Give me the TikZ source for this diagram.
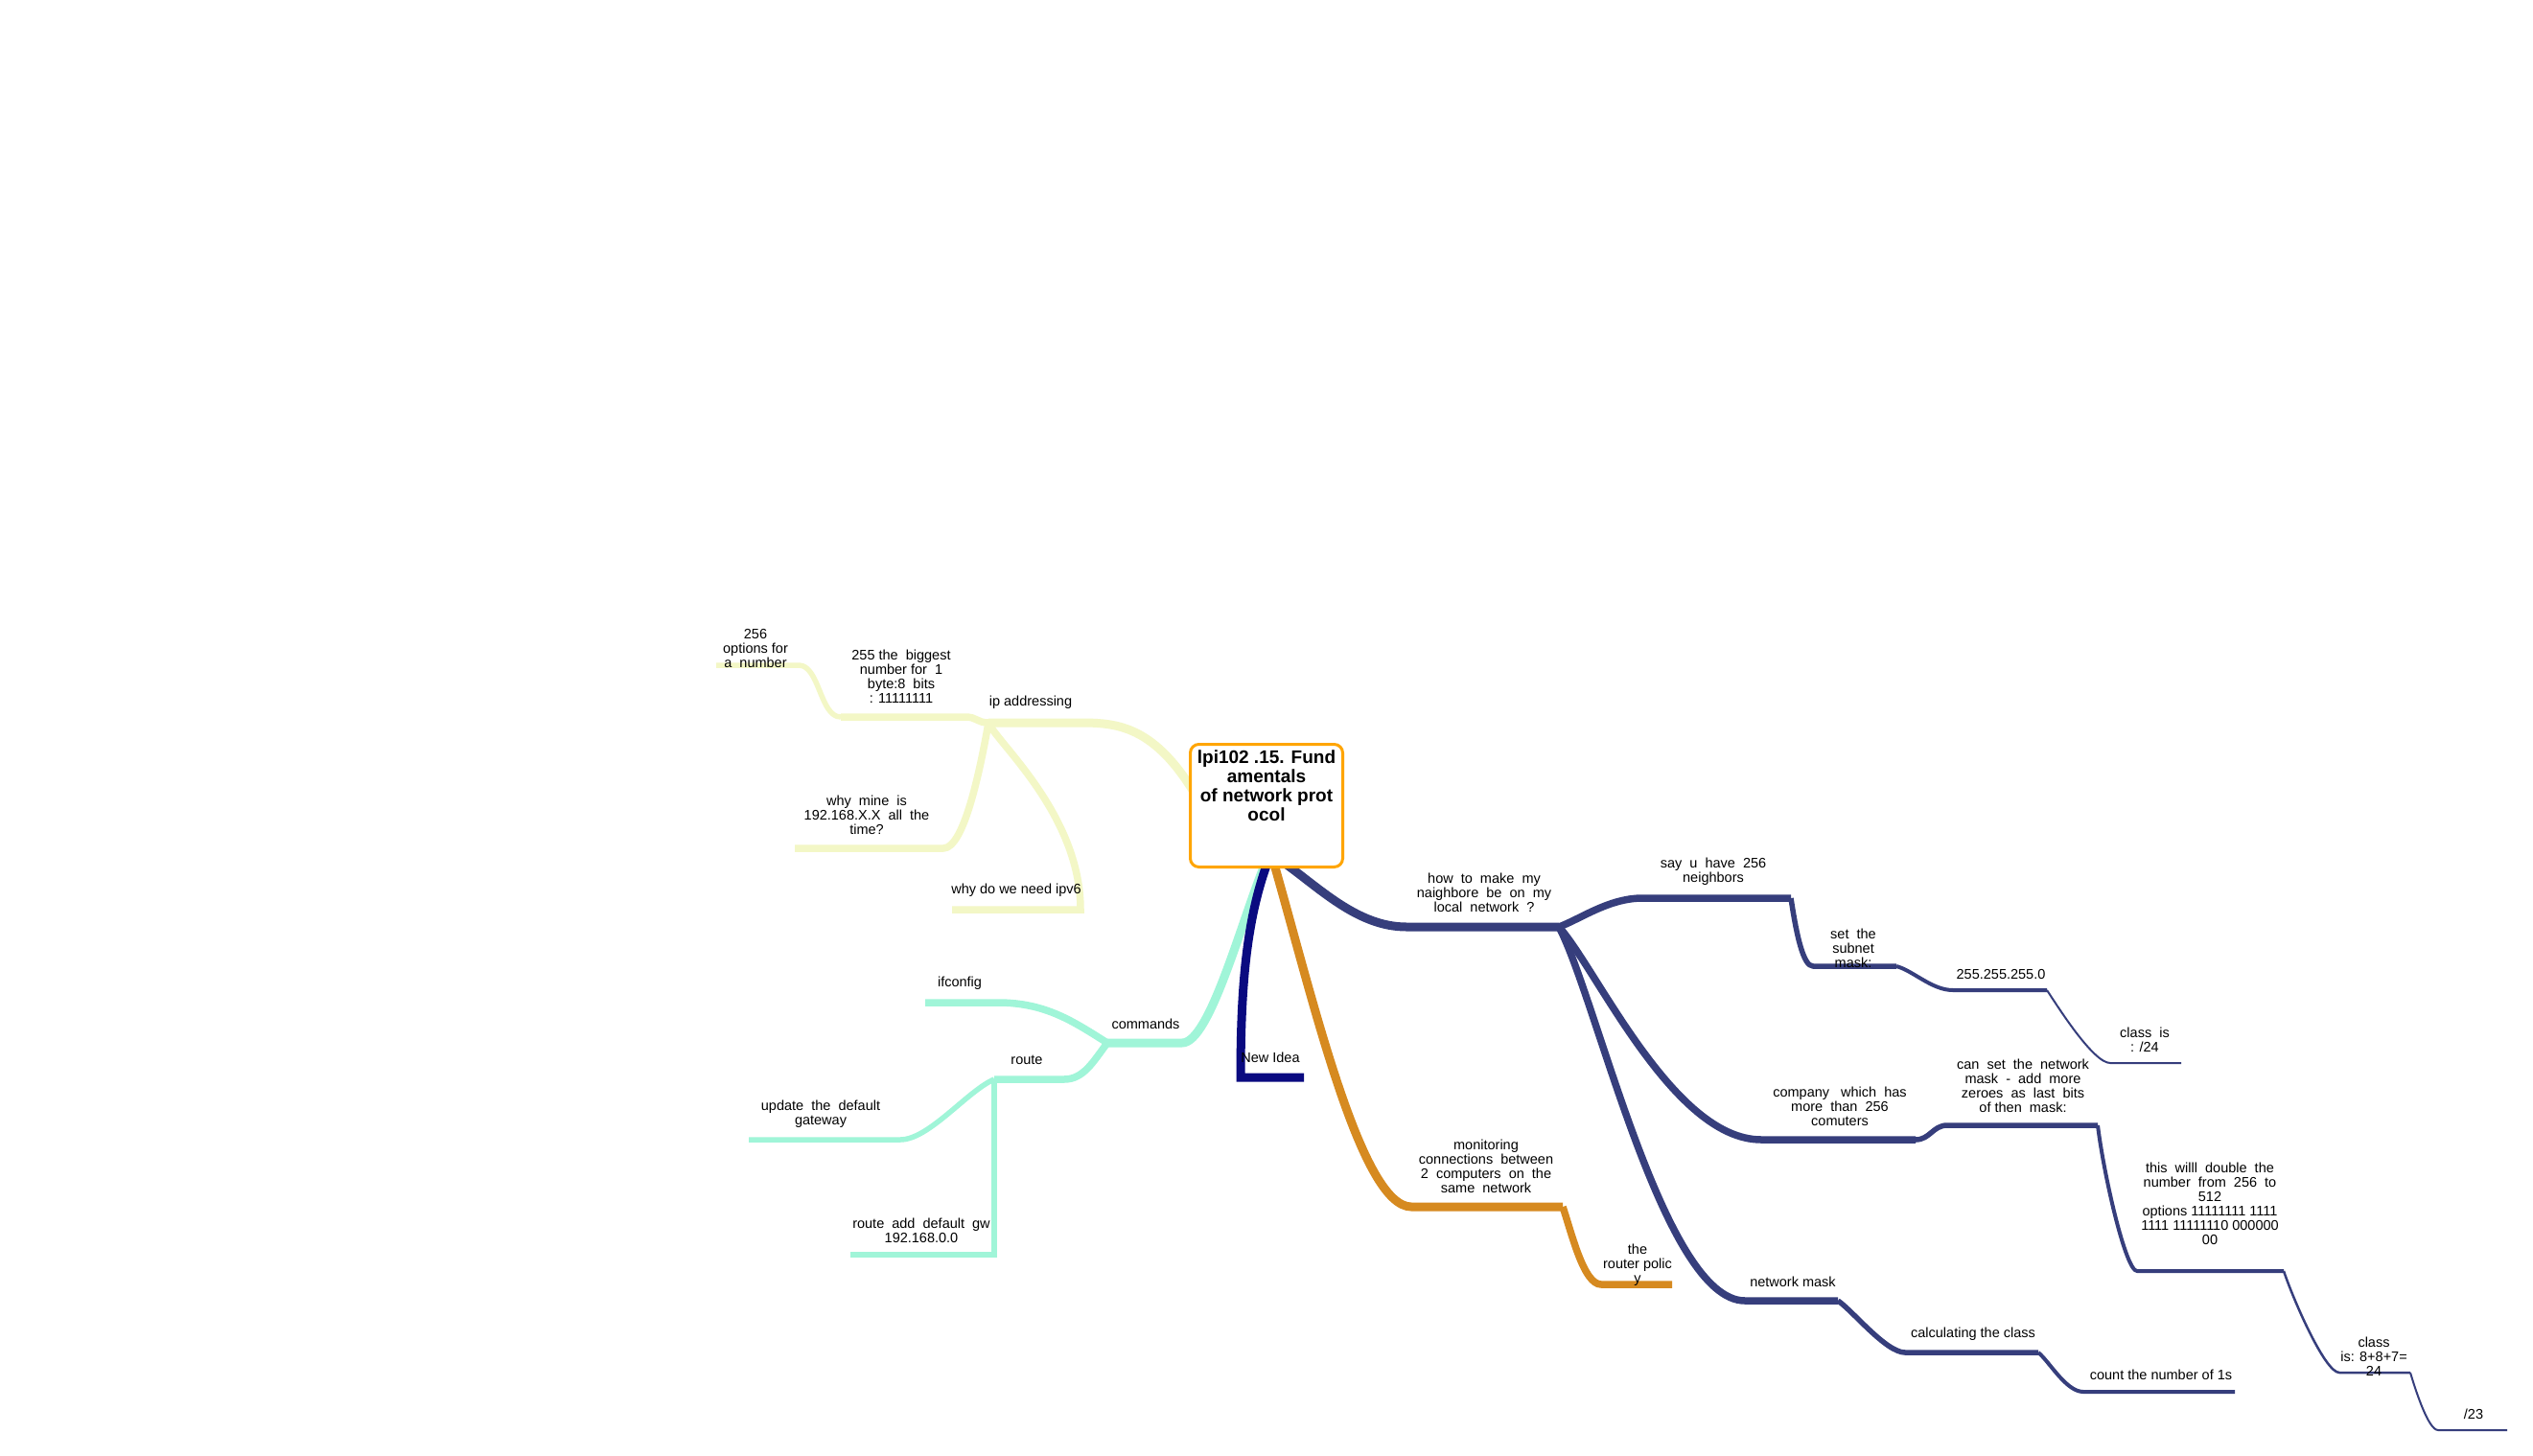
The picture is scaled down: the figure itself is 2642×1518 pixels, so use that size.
\documentclass[tikz,border=0pt]{standalone}
\usepackage{fontspec}
\setmainfont{Liberation Sans}
\definecolor{ylw}{HTML}{F3F7C6}
\definecolor{mint}{HTML}{A0F5D8}
\definecolor{navy}{HTML}{0A0A80}
\definecolor{amber}{HTML}{D68A20}
\definecolor{slate}{HTML}{363E7C}
\definecolor{boxor}{HTML}{FFA500}
\begin{document}
\begin{tikzpicture}[x=1pt,y=-1pt,
  lbl/.style={inner sep=0pt, align=center, font=\fontsize{14.5}{15}\selectfont},
  ttl/.style={inner sep=0pt, align=center, font=\bfseries\fontsize{19}{20}\selectfont},
  rootbox/.style={draw=boxor, line width=3pt, rounded corners=9pt, fill=white,
    minimum width=159pt, minimum height=128pt, inner sep=0pt},
  br/.style={line cap=butt, line join=round},
  lvA/.style={br, line width=9pt},
  lvB/.style={br, line width=7.5pt},
  lvC/.style={br, line width=5.5pt},
  lvD/.style={br, line width=4pt},
  lvE/.style={br, line width=2.5pt},
  lvF/.style={br, line width=2pt}]
\useasboundingbox (0,0) rectangle (2642,1518);
\fill[white] (0,0) rectangle (2642,1518);

% attachment points under the central box
\coordinate (rootY) at (1252,838);
\coordinate (rootT) at (1320,900);
\coordinate (rootN) at (1322,900);
\coordinate (rootO) at (1330,905);
\coordinate (rootH) at (1335,897);

% underline ends: ip addressing branch
\coordinate (ipL) at (1031,754);   \coordinate (ipR) at (1123,754);
\coordinate (bigL) at (877,748);   \coordinate (bigR) at (1007,748);
\coordinate (optL) at (747,694);   \coordinate (optR) at (833,694);
\coordinate (mineL) at (829,885);  \coordinate (mineR) at (984,885);
\coordinate (vsixL) at (993,949);  \coordinate (vsixR) at (1127,949);

% commands branch
\coordinate (cmdL) at (1155,1088); \coordinate (cmdR) at (1233,1088);
\coordinate (ifcL) at (965,1046);  \coordinate (ifcR) at (1041,1046);
\coordinate (rteL) at (1037,1126); \coordinate (rteR) at (1110,1126);
\coordinate (updL) at (781,1189);  \coordinate (updR) at (939,1189);
\coordinate (raddL) at (887,1309); \coordinate (raddR) at (1037,1309);

% new idea
\coordinate (newL) at (1294,1124); \coordinate (newR) at (1360,1124);

% monitoring branch
\coordinate (monL) at (1472,1259); \coordinate (monR) at (1630,1259);
\coordinate (polL) at (1670,1340); \coordinate (polR) at (1744,1340);

% neighbour branch
\coordinate (howL) at (1467,967);  \coordinate (howR) at (1626,967);
\coordinate (sayL) at (1713,937);  \coordinate (sayR) at (1868,937);
\coordinate (subL) at (1891,1008); \coordinate (subR) at (1978,1008);
\coordinate (mzL) at (2037,1033);  \coordinate (mzR) at (2135,1033);
\coordinate (ctfL) at (2201,1109); \coordinate (ctfR) at (2275,1109);
\coordinate (compL) at (1837,1189);\coordinate (compR) at (1998,1189);
\coordinate (canL) at (2031,1174); \coordinate (canR) at (2188,1174);
\coordinate (dblL) at (2229,1326); \coordinate (dblR) at (2382,1326);
\coordinate (ceL) at (2440,1432);  \coordinate (ceR) at (2514,1432);
\coordinate (stL) at (2543,1492);  \coordinate (stR) at (2615,1492);
\coordinate (nmL) at (1820,1357);  \coordinate (nmR) at (1917,1357);
\coordinate (calcL) at (1987,1411);\coordinate (calcR) at (2126,1411);
\coordinate (cntL) at (2173,1452); \coordinate (cntR) at (2331,1452);

% ---- ip addressing (yellow)
\draw[lvA, ylw] (rootY) .. controls +(-47,-84) and +(40,0) .. (ipR) -- (ipL);
\draw[lvB, ylw] (ipL) .. controls +(-12,0) and +(12,0) .. (bigR) -- (bigL);
\draw[lvC, ylw] (bigL) .. controls +(-22,0) and +(22,0) .. (optR) -- (optL);
\draw[lvB, ylw] (ipL) .. controls +(-8,45) and +(22,0) .. (mineR) -- (mineL);
\draw[lvB, ylw, line join=miter] (ipL) .. controls +(9,21) and +(0,-99) .. (vsixR) -- (vsixL);

% ---- commands (mint)
\draw[lvA, mint] (rootT) .. controls +(-25,60) and +(29,0) .. (cmdR) -- (cmdL);
\draw[lvB, mint] (cmdL) .. controls +(-35,-22) and +(50,0) .. (ifcR) -- (ifcL);
\draw[lvB, mint] (cmdL) .. controls +(-15,20) and +(20,0) .. (rteR) -- (rteL);
\draw[lvC, mint] (rteL) .. controls +(-28,12) and +(30,0) .. (updR) -- (updL);
\draw[lvC, mint, line join=miter] (rteL) -- (raddR) -- (raddL);

% ---- new idea (navy)
\draw[lvA, navy, line join=miter] (rootN) .. controls +(-22,60) and +(0,-94) .. (newL) -- (newR);

% ---- monitoring (amber)
\draw[lvA, amber] (rootO) .. controls +(40,140) and +(-52,0) .. (monL) -- (monR);
\draw[lvB, amber] (monR) .. controls +(10,30) and +(-18,0) .. (polL) -- (polR);

% ---- neighbours (slate)
\draw[lvA, slate] (rootH) .. controls +(40,28) and +(-52,0) .. (howL) -- (howR);
\draw[lvB, slate] (howR) .. controls +(22,-8) and +(-35,0) .. (sayL) -- (sayR);
\draw[lvC, slate] (sayR) .. controls +(6,40) and +(-10,0) .. (subL) -- (subR);
\draw[lvD, slate] (subR) .. controls +(18,5) and +(-22,0) .. (mzL) -- (mzR);
\draw[lvF, slate] (mzR) .. controls +(10,15) and +(-18,0) .. (ctfL) -- (ctfR);
\draw[lvB, slate] (howR) .. controls +(39,43) and +(-92,0) .. (compL) -- (compR);
\draw[lvC, slate] (compR) .. controls +(15,0) and +(-15,0) .. (canL) -- (canR);
\draw[lvD, slate] (canR) .. controls +(6,50) and +(-12,0) .. (dblL) -- (dblR);
\draw[lvE, slate] (dblR) .. controls +(10,30) and +(-15,0) .. (ceL) -- (ceR);
\draw[lvF, slate] (ceR) .. controls +(6,20) and +(-10,0) .. (stL) -- (stR);
\draw[lvB, slate] (howR) .. controls +(39,73) and +(-85,0) .. (nmL) -- (nmR);
\draw[lvC, slate] (nmR) .. controls +(15,10) and +(-20,0) .. (calcL) -- (calcR);
\draw[lvD, slate] (calcR) .. controls +(12,10) and +(-18,0) .. (cntL) -- (cntR);

% ---- central topic
\node[rootbox] (root) at (1321,840.5) {};
\node[ttl] (title) at (1321,820) {lpi102 .15. Fund\\amentals\\of network prot\\ocol};

% ---- labels
\node[lbl] (ip) at (1075,733) {ip addressing};
\node[lbl] (big) at (940,705.5) {255 the~~biggest\\number for~~1\\byte:8~~bits\\: 11111111};
\node[lbl] (opt) at (788,676) {256\\options for\\a~~number};
\node[lbl] (mine) at (904,850) {why~~mine~~is\\192.168.X.X~~all~~the\\time?};
\node[lbl] (vsix) at (1060,929) {why do we need ipv6};

\node[lbl] (cmd) at (1195,1068) {commands};
\node[lbl] (ifc) at (1001,1026) {ifconfig};
\node[lbl] (rte) at (1071,1106) {route};
\node[lbl] (upd) at (856,1162.5) {update~~the~~default\\gateway};
\node[lbl] (radd) at (961,1283.5) {route~~add~~default~~gw\\192.168.0.0};

\node[lbl] (new) at (1325,1103) {New Idea};

\node[lbl] (mon) at (1550,1216.5) {monitoring\\connections~~between\\2~~computers~~on~~the\\same~~network};
\node[lbl] (pol) at (1708,1320) {the\\router polic\\y};

\node[lbl] (how) at (1548,931) {how~~to~~make~~my\\naighbore~~be~~on~~my\\local~~network~~?};
\node[lbl] (say) at (1787,909.5) {say~~u~~have~~256\\neighbors};
\node[lbl] (sub) at (1933,989) {set~~the\\subnet\\mask:};
\node[lbl] (mz) at (2087,1016) {255.255.255.0};
\node[lbl] (ctf) at (2237,1084.5) {class~~is\\: /24};
\node[lbl] (comp) at (1919,1154) {company~~~which~~has\\more~~than~~256\\comuters};
\node[lbl] (can) at (2110,1132.5) {can~~set~~the~~network\\mask~~-~~add~~more\\zeroes~~as~~last~~bits\\of then~~mask:};
\node[lbl] (dbl) at (2305,1255.5) {this~~willl~~double~~the\\number~~from~~256~~to\\512\\options 11111111 1111\\1111 11111110 000000\\00};
\node[lbl] (ce) at (2476,1415) {class\\is: 8+8+7=\\24};
\node[lbl] (st) at (2580,1475) {/23};
\node[lbl] (nm) at (1870,1337) {network mask};
\node[lbl] (calc) at (2058,1392) {calculating the class};
\node[lbl] (cnt) at (2254,1434) {count the number of 1s};
\end{tikzpicture}
\end{document}
